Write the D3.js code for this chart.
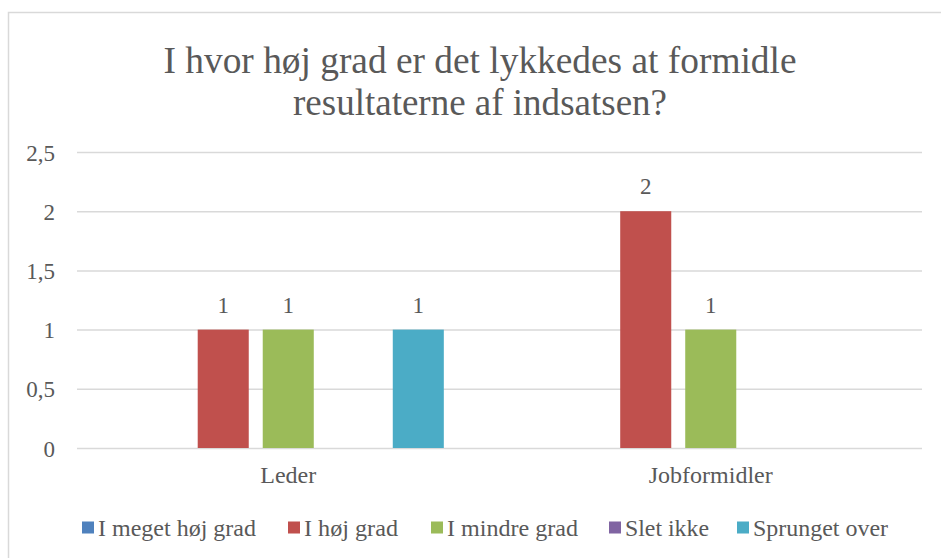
<!DOCTYPE html>
<html><head><meta charset="utf-8">
<script src="https://cdn.jsdelivr.net/npm/d3@7"></script>
</head><body style="margin:0;padding:0;background:#fff;overflow:hidden">
<svg id="c" width="941" height="558" font-family="Liberation Serif" style="display:block"></svg>
<script>
const categories = ["Leder", "Jobformidler"];
const seriesNames = ["I meget høj grad", "I høj grad", "I mindre grad", "Slet ikke", "Sprunget over"];
const seriesColors = ["#4F81BD", "#C0504D", "#9BBB59", "#8064A2", "#4BACC6"];
const lederValues = [0, 1, 1, 0, 1];
const jobformidlerValues = [0, 2, 1, 0, 0];
const yTicks = [0, 0.5, 1, 1.5, 2, 2.5];
const titleLines = ["I hvor høj grad er det lykkedes at formidle", "resultaterne af indsatsen?"];

const values = [lederValues, jobformidlerValues];
const TXT = "#595959";
const svg = d3.select("#c");

svg.append("rect").attr("x", 8.5).attr("y", 12.5).attr("width", 940).attr("height", 560)
  .attr("fill", "#fff").attr("stroke", "#d9d9d9").attr("stroke-width", 1.5);

const left = 77, right = 922;
const y = d3.scaleLinear().domain([0, 2.5]).range([448, 152]);
const x0 = d3.scaleBand().domain(categories).range([left, right]).paddingInner(0.2636).paddingOuter(0.1318);
const x1 = d3.scaleBand().domain(seriesNames).range([0, x0.bandwidth()]).paddingInner(0.215).paddingOuter(0);

function styleText(sel, size) {
  return sel.attr("font-family", "Liberation Serif").style("font-family", '"Liberation Serif"')
    .attr("font-size", size).attr("fill", TXT);
}

// title
const titleW = [633, 374];
styleText(svg.append("g").selectAll("text").data(titleLines).join("text")
  .attr("x", 480).attr("y", (d, i) => 73 + i * 42)
  .attr("text-anchor", "middle")
  .attr("textLength", (d, i) => titleW[i]).attr("lengthAdjust", "spacingAndGlyphs")
  .text(d => d), 37);

// grid + y axis
const yAxis = d3.axisLeft(y).tickValues(yTicks).tickSize(-(right - left)).tickPadding(22)
  .tickFormat(d => String(d).replace(".", ","));
const ga = svg.append("g").attr("transform", `translate(${left},0)`).call(yAxis)
  .attr("font-family", "Liberation Serif");
ga.select(".domain").remove();
ga.selectAll(".tick line").attr("stroke", "#d9d9d9").attr("stroke-width", 1.5);
styleText(ga.selectAll(".tick text").attr("dy", "0.35em"), 23);

// bars
const groups = svg.append("g").selectAll("g").data(categories).join("g")
  .attr("transform", d => `translate(${x0(d)},0)`);
groups.each(function (cat, ci) {
  const g = d3.select(this);
  const data = seriesNames.map((s, si) => ({ s, si, v: values[ci][si] })).filter(d => d.v > 0);
  g.selectAll("rect").data(data).join("rect")
    .attr("x", d => x1(d.s)).attr("width", x1.bandwidth())
    .attr("y", d => y(d.v)).attr("height", d => y(0) - y(d.v))
    .attr("fill", d => seriesColors[d.si]);
  styleText(g.selectAll("text").data(data).join("text")
    .attr("x", d => x1(d.s) + x1.bandwidth() / 2).attr("y", d => y(d.v) - 17)
    .attr("text-anchor", "middle")
    .text(d => d.v), 23);
});

// category labels
styleText(svg.append("g").selectAll("text").data(categories).join("text")
  .attr("x", d => x0(d) + x0.bandwidth() / 2).attr("y", 483)
  .attr("text-anchor", "middle")
  .text(d => d), 24);

// legend
const legendX = [82, 288, 431, 609, 737];
const legendW = [158, 94, 131, 84, 135];
const lg = svg.append("g").selectAll("g").data(seriesNames).join("g")
  .attr("transform", (d, i) => `translate(${legendX[i]},0)`);
lg.append("rect").attr("x", 0).attr("y", 521.5).attr("width", 12).attr("height", 12)
  .attr("fill", (d, i) => seriesColors[i]);
styleText(lg.append("text").attr("x", 16).attr("y", 536)
  .attr("textLength", (d, i) => legendW[i]).attr("lengthAdjust", "spacingAndGlyphs")
  .text(d => d), 24);
</script>
</body></html>
